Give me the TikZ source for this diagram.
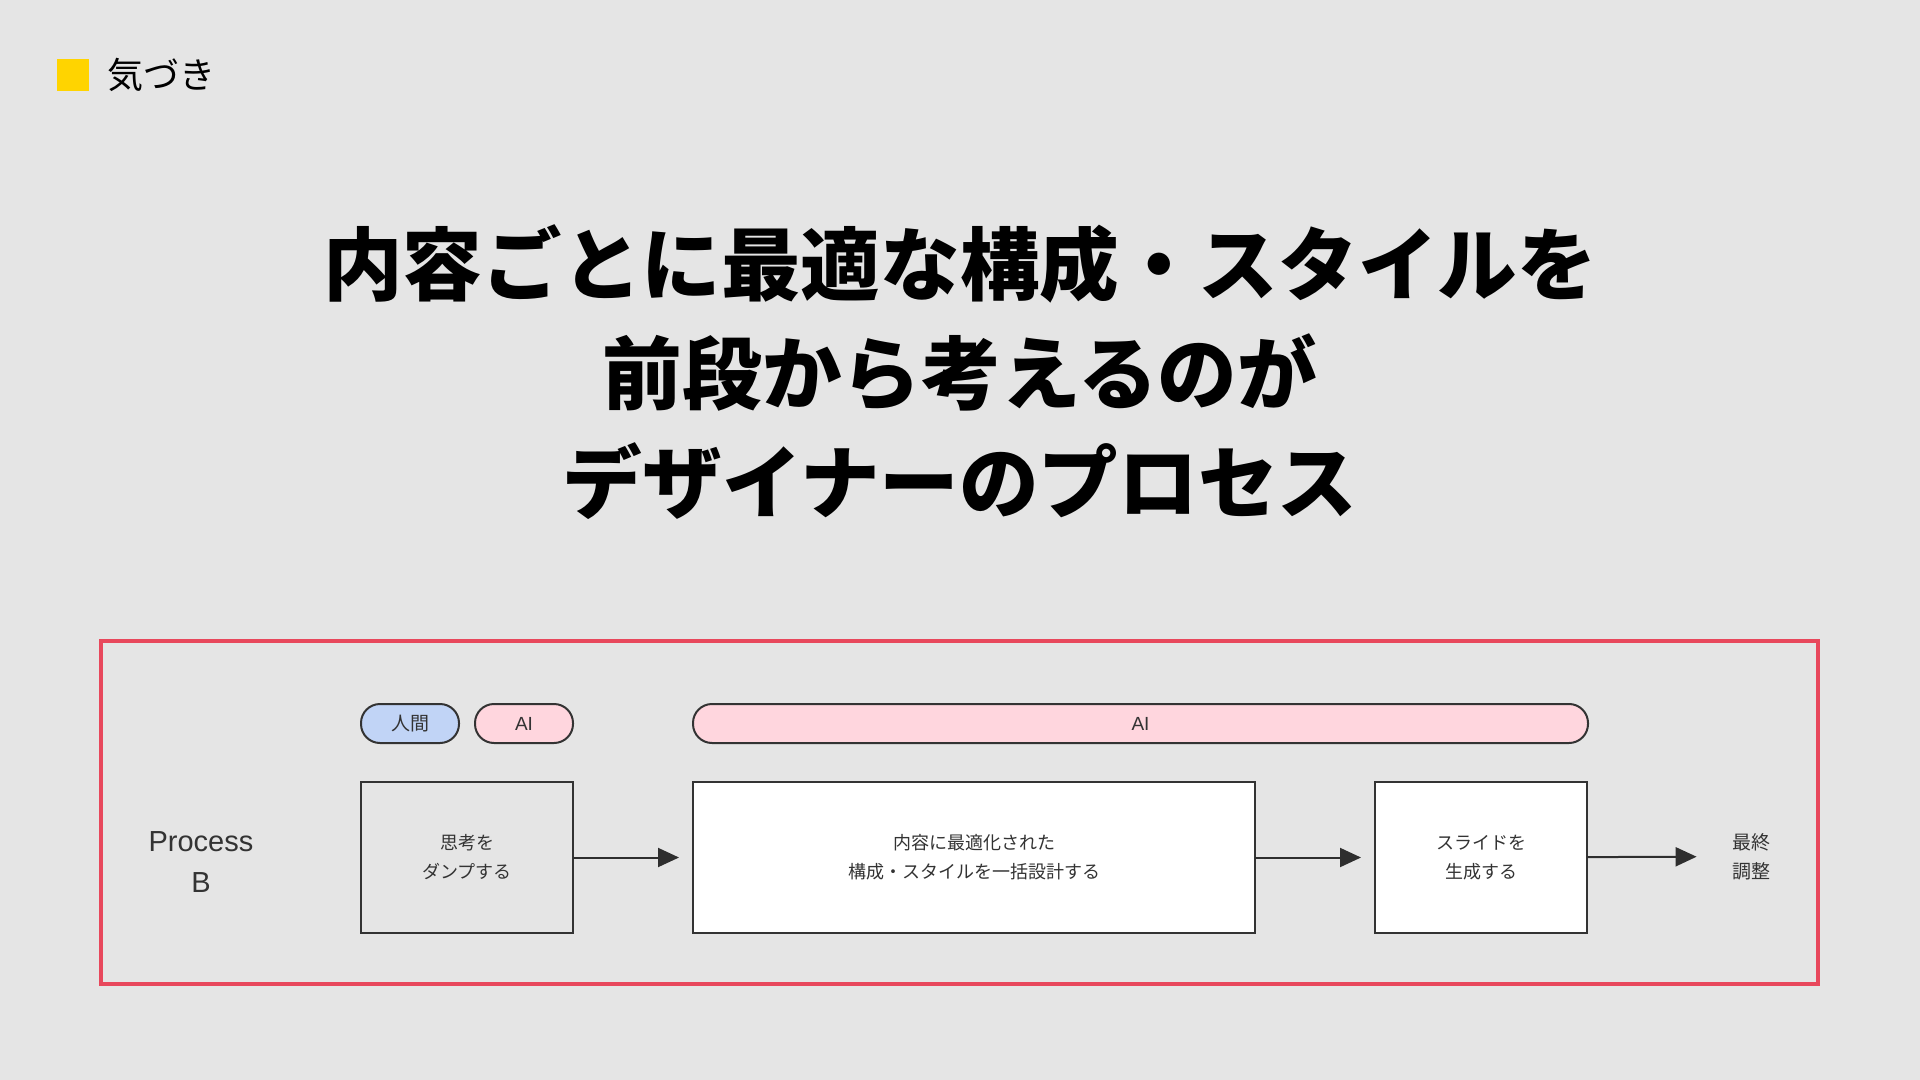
\documentclass[tikz,border=0pt]{standalone}
\usepackage{fontspec}
\usepackage{xcolor}
\usepackage{tikz}
\usetikzlibrary{arrows.meta,positioning}
\newfontfamily\jpfont{Noto Sans CJK JP}
\newfontfamily\latinsans{Liberation Sans}
\definecolor{SlideBg}{RGB}{229,229,229}
\definecolor{NoteYellow}{RGB}{255,212,0}
\definecolor{FrameRed}{RGB}{232,72,92}
\definecolor{HumanBlue}{RGB}{193,212,246}
\definecolor{AIPink}{RGB}{255,214,222}
\definecolor{InkGray}{RGB}{51,51,51}

\begin{document}
\begin{tikzpicture}[
    x=0.5pt, y=-0.5pt,
    node distance=19.5pt and 60pt,
    stepbox/.style={
      draw=InkGray,
      line width=1pt,
      align=center,
      font=\jpfont\fontsize{9}{14.5}\selectfont,
      text=InkGray,
      minimum width=106pt,
      minimum height=75.5pt,
      inner sep=0pt,
      outer sep=0pt
    },
    tag/.style={
      draw=InkGray,
      line width=1pt,
      rounded corners=9.5pt,
      font=\jpfont\fontsize{9.5}{11}\selectfont,
      text=InkGray,
      minimum width=49pt,
      minimum height=19.5pt,
      inner sep=0pt,
      outer sep=0pt
    },
    label/.style={align=center, text=InkGray, inner sep=0pt},
    arrow/.style={-{Triangle[length=10.5pt, width=9.5pt]}, line width=1pt,
      draw=InkGray!90!black, shorten >=7pt}
  ]
    \useasboundingbox (0,0) rectangle (1920,1080);
    \fill[SlideBg] (0,0) rectangle (1920,1080);

    % header
    \fill[NoteYellow] (57,59) rectangle (89,91);
    \node[anchor=west, inner sep=0pt, font=\jpfont\fontsize{18}{20}\selectfont]
      (note-title) at (107,75) {気づき};

    \node[align=center, inner sep=0pt,
      font=\jpfont\bfseries\fontsize{39.8}{54.5}\selectfont] (headline) at (960,372)
      {内容ごとに最適な構成・スタイルを\\前段から考えるのが\\デザイナーのプロセス};

    % process B
    \draw[FrameRed, line width=2pt] (101,641) rectangle (1818,984);

    \node[label, font=\latinsans\fontsize{14.5}{20.5}\selectfont] (process-name)
      at (201,862) {Process\\B};

    \node[stepbox] (dump-box) at (467,857.5) {思考を\\ダンプする};
    \node[stepbox, fill=white, right=of dump-box, minimum width=281pt]
      (design-box) {内容に最適化された\\構成・スタイルを一括設計する};
    \node[stepbox, fill=white, right=of design-box] (slide-box)
      {スライドを\\生成する};
    \node[label, font=\jpfont\fontsize{9.5}{14.5}\selectfont, inner xsep=10.5pt]
      (final-step) at (1751,856.5) {最終\\調整};

    \node[tag, fill=HumanBlue, above=of dump-box.north west, anchor=south west]
      (human-tag) {人間};
    \node[tag, fill=AIPink, above=of dump-box.north east, anchor=south east,
      font=\latinsans\fontsize{9.5}{11}\selectfont] (dump-ai-tag) {AI};
    \node[tag, fill=AIPink, above=of design-box.north west, anchor=south west,
      minimum width=447.5pt, font=\latinsans\fontsize{9.5}{11}\selectfont]
      (design-ai-tag) {AI};

    \draw[arrow] (dump-box) -- (design-box);
    \draw[arrow] (design-box) -- (slide-box);
    \draw[arrow] (slide-box) -- (final-step);
  \end{tikzpicture}
\end{document}
